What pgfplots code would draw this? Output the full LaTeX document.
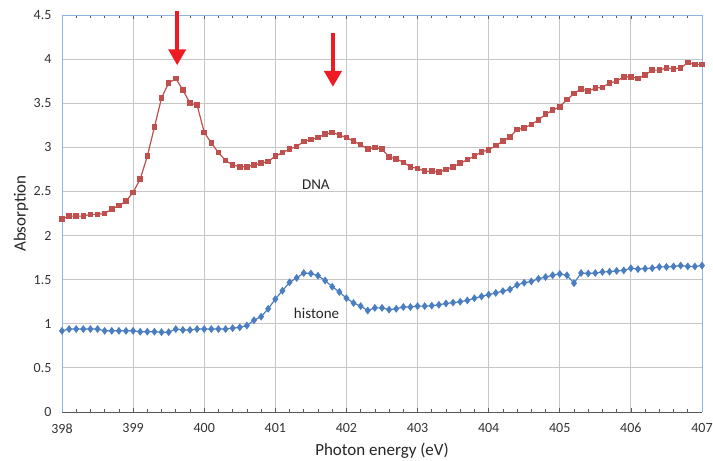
\documentclass[border=0pt]{standalone}
\usepackage{pgfplots}
\pgfplotsset{compat=1.18}
\usepackage{pgfplotstable}
\usepackage{fontspec}
\setmainfont{Carlito}
\usetikzlibrary{arrows.meta}
\definecolor{dnared}{HTML}{C0504D}
\definecolor{histblue}{HTML}{4A7EC0}
\definecolor{axisblue}{HTML}{8EB4E3}
\definecolor{arrowred}{HTML}{ED1C24}

\pgfplotstableread{
x y
398.0 2.19
398.1 2.22
398.2 2.22
398.3 2.22
398.4 2.24
398.5 2.24
398.6 2.25
398.7 2.30
398.8 2.34
398.9 2.39
399.0 2.49
399.1 2.64
399.2 2.90
399.3 3.23
399.4 3.56
399.5 3.73
399.6 3.78
399.7 3.65
399.8 3.50
399.9 3.48
400.0 3.17
400.1 3.05
400.2 2.94
400.3 2.85
400.4 2.80
400.5 2.78
400.6 2.78
400.7 2.80
400.8 2.82
400.9 2.84
401.0 2.90
401.1 2.94
401.2 2.98
401.3 3.01
401.4 3.065
401.5 3.09
401.6 3.11
401.7 3.15
401.8 3.17
401.9 3.14
402.0 3.11
402.1 3.07
402.2 3.03
402.3 2.98
402.4 3.00
402.5 2.98
402.6 2.89
402.7 2.87
402.8 2.83
402.9 2.78
403.0 2.76
403.1 2.73
403.2 2.73
403.3 2.72
403.4 2.75
403.5 2.78
403.6 2.82
403.7 2.86
403.8 2.90
403.9 2.95
404.0 2.97
404.1 3.02
404.2 3.07
404.3 3.12
404.4 3.20
404.5 3.22
404.6 3.26
404.7 3.31
404.8 3.375
404.9 3.42
405.0 3.46
405.1 3.54
405.2 3.61
405.3 3.66
405.4 3.64
405.5 3.67
405.6 3.68
405.7 3.73
405.8 3.75
405.9 3.80
406.0 3.80
406.1 3.78
406.2 3.82
406.3 3.875
406.4 3.875
406.5 3.90
406.6 3.89
406.7 3.90
406.8 3.96
406.9 3.94
407.0 3.94
}\dnatable

\pgfplotstableread{
x y
398.0 0.92
398.1 0.94
398.2 0.94
398.3 0.94
398.4 0.94
398.5 0.94
398.6 0.92
398.7 0.92
398.8 0.92
398.9 0.92
399.0 0.92
399.1 0.91
399.2 0.91
399.3 0.91
399.4 0.905
399.5 0.905
399.6 0.94
399.7 0.93
399.8 0.93
399.9 0.94
400.0 0.94
400.1 0.94
400.2 0.94
400.3 0.94
400.4 0.95
400.5 0.96
400.6 0.98
400.7 1.04
400.8 1.08
400.9 1.17
401.0 1.28
401.1 1.375
401.2 1.47
401.3 1.52
401.4 1.575
401.5 1.57
401.6 1.545
401.7 1.49
401.8 1.42
401.9 1.36
402.0 1.29
402.1 1.235
402.2 1.20
402.3 1.15
402.4 1.18
402.5 1.18
402.6 1.16
402.7 1.17
402.8 1.19
402.9 1.19
403.0 1.20
403.1 1.20
403.2 1.205
403.3 1.215
403.4 1.23
403.5 1.24
403.6 1.25
403.7 1.265
403.8 1.29
403.9 1.31
404.0 1.33
404.1 1.35
404.2 1.37
404.3 1.39
404.4 1.44
404.5 1.465
404.6 1.48
404.7 1.51
404.8 1.53
404.9 1.55
405.0 1.565
405.1 1.55
405.2 1.46
405.3 1.575
405.4 1.57
405.5 1.575
405.6 1.587
405.7 1.59
405.8 1.60
405.9 1.605
406.0 1.63
406.1 1.62
406.2 1.625
406.3 1.63
406.4 1.645
406.5 1.645
406.6 1.65
406.7 1.66
406.8 1.65
406.9 1.65
407.0 1.66
}\histtable

\begin{document}
\begin{tikzpicture}
\path[use as bounding box] (-62pt,-49pt) rectangle (651pt,412pt);
\begin{axis}[
  at={(0,0)}, anchor=south west,
  scale only axis, width=640pt, height=397pt,
  xmin=398, xmax=407, ymin=0, ymax=4.5,
  xtick={398,399,...,407},
  ytick={0,0.5,...,4.5},
  minor x tick num=4,
  tick align=inside,
  major tick length=4pt, minor tick length=3pt,
  ytick style={draw=none},
  xtick style={gray!70!black, line width=0.6pt},
  grid=major,
  major grid style={gray!45, line width=0.8pt},
  separate axis lines,
  axis line style={draw=axisblue, line width=0.9pt},
  x axis line style={draw=gray!70!black, line width=0.9pt},
  clip=false,
  font=\fontsize{14}{16}\selectfont,
  tick label style={font=\fontsize{14}{16}\selectfont, text=black!80},
  /pgf/number format/assume math mode=true,
  xticklabel style={yshift=-8pt},
  yticklabel style={xshift=-7pt},
  every axis x label/.style={at={([yshift=-39pt]axis description cs:0.5,0)}, anchor=center, font=\fontsize{17}{19}\selectfont, text=black!85},
  every axis y label/.style={at={([xshift=-41pt]axis description cs:0,0.5)}, anchor=center, rotate=90, font=\fontsize{17}{19}\selectfont, text=black!85},
  xlabel={Photon energy (eV)},
  ylabel={Absorption},
]
\draw[axisblue, line width=0.9pt] (rel axis cs:0,1) -- (rel axis cs:1,1);
\addplot[dnared, line width=1.2pt, mark=square*, mark size=2.2pt, mark options={fill=dnared, draw=dnared}] table[x=x,y=y] {\dnatable};
\addplot[histblue, line width=1.2pt, mark=diamond*, mark size=3pt, mark options={fill=histblue, draw=histblue}] table[x=x,y=y] {\histtable};
\node[font=\fontsize{15}{17}\selectfont, text=black!85] at (axis cs:401.57,2.58) {DNA};
\node[font=\fontsize{15}{17}\selectfont, text=black!85] at (axis cs:401.58,1.12) {histone};
\draw[arrowred, line width=4pt, -{Triangle[width=17pt,length=16pt]}] (axis cs:399.62,4.55) -- (axis cs:399.62,3.93);
\draw[arrowred, line width=4pt, -{Triangle[width=17pt,length=16pt]}] (axis cs:401.81,4.30) -- (axis cs:401.81,3.685);
\end{axis}
\end{tikzpicture}
\end{document}
